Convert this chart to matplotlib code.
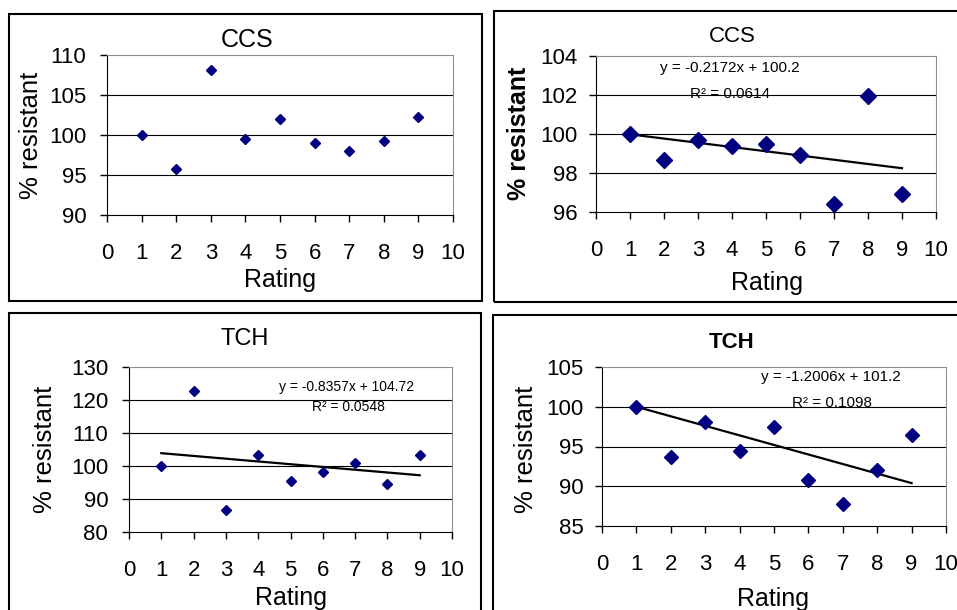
import matplotlib.pyplot as plt
import numpy as np
from matplotlib.patches import Rectangle

plt.rcParams['font.family'] = ['Liberation Sans', 'DejaVu Sans']

# data
rating = [1, 2, 3, 4, 5, 6, 7, 8, 9]
ccs_a = [100, 95.7, 108.1, 99.5, 102.0, 99.0, 98.0, 99.3, 102.3]
ccs_b = [100, 98.65, 99.7, 99.4, 99.5, 98.9, 96.4, 101.95, 96.9]
tch_a = [100, 122.8, 86.8, 103.2, 95.6, 98.1, 100.9, 94.4, 103.2]
tch_b = [100, 93.7, 98.1, 94.4, 97.4, 90.8, 87.8, 92.1, 96.5]

ccs_b_fit = (-0.2172, 100.2, 0.0614)
tch_a_fit = (-0.8357, 104.72, 0.0548)
tch_b_fit = (-1.2006, 101.2, 0.1098)

W, H = 957, 610
fig = plt.figure(figsize=(W / 100, H / 100), dpi=100)


def px_rect(x0, y0, x1, y1):
    return [x0 / W, 1 - y1 / H, (x1 - x0) / W, (y1 - y0) / H]


def ftext(x, y, s, **kw):
    fig.text(x / W, 1 - y / H, s, **kw)


def frame(x0, y0, x1, y1):
    fig.patches.append(Rectangle((x0 / W, 1 - y1 / H), (x1 - x0) / W, (y1 - y0) / H,
                                 transform=fig.transFigure, fill=False,
                                 edgecolor='black', linewidth=1.5, clip_on=False))


def panel(rect, y, ylim, yticks, ms, fit=None, fit_fs=11, eq_pos=None, r2_pos=None,
          ypad=10, xpad=15.5):
    ax = fig.add_axes(px_rect(*rect))
    ax.set_xlim(0, 10)
    ax.set_ylim(*ylim)
    ax.set_xticks(range(0, 11))
    ax.set_yticks(yticks)
    for yt in yticks[1:-1]:
        ax.axhline(yt, color='black', lw=0.8, zorder=1)
    ax.spines['top'].set_color('#909090')
    ax.spines['right'].set_color('#909090')
    ax.spines['left'].set_color('black')
    ax.spines['bottom'].set_color('black')
    ax.tick_params(axis='x', direction='out', length=5, width=1, pad=xpad, labelsize=16)
    ax.tick_params(axis='y', direction='out', length=5, width=1, pad=ypad, labelsize=16)
    ax.plot(rating, y, linestyle='none', marker='D', markersize=ms,
            color='#000080', zorder=3, clip_on=False)
    if fit is not None:
        m, b, r2 = fit
        xs = np.array([rating[0], rating[-1]])
        ax.plot(xs, m * xs + b, color='black', lw=1.6, zorder=2)
        ftext(*eq_pos, 'y = %sx + %s' % (m, b), ha='center', va='center', fontsize=fit_fs)
        ftext(*r2_pos, 'R² = %s' % r2, ha='center', va='center', fontsize=fit_fs)
    return ax


# top left
frame(9, 14, 482, 301)
panel((107, 55, 453, 215), ccs_a, (90, 110), [90, 95, 100, 105, 110], 4.8)
ftext(247, 40, 'CCS', ha='center', va='center', fontsize=18)
ftext(31, 135, '% resistant', ha='center', va='center', rotation=90, fontsize=18.5)
ftext(280, 287, 'Rating', ha='center', va='baseline', fontsize=18)

# top right
frame(494, 11, 970, 302)
panel((596, 56, 936, 212), ccs_b, (96, 104), [96, 98, 100, 102, 104], 8,
      fit=ccs_b_fit, eq_pos=(730, 68), r2_pos=(730, 94), ypad=8)
ftext(732, 36, 'CCS', ha='center', va='center', fontsize=16)
ftext(519, 133, '% resistant', ha='center', va='center', rotation=90, fontsize=18,
      weight='bold')
ftext(767, 290, 'Rating', ha='center', va='baseline', fontsize=18)

# bottom left
frame(9, 313, 481, 640)
panel((129, 367, 452, 532), tch_a, (80, 130), [80, 90, 100, 110, 120, 130], 4.8,
      fit=tch_a_fit, fit_fs=10, eq_pos=(347, 387), r2_pos=(348, 407))
ftext(245, 339, 'TCH', ha='center', va='center', fontsize=17)
ftext(45, 449, '% resistant', ha='center', va='center', rotation=90, fontsize=18.5)
ftext(291, 605, 'Rating', ha='center', va='baseline', fontsize=18)

# bottom right
frame(493, 315, 970, 640)
panel((602, 367, 946, 526), tch_b, (85, 105), [85, 90, 95, 100, 105], 7.5,
      fit=tch_b_fit, eq_pos=(831, 377), r2_pos=(832, 403), ypad=8)
ftext(732, 343, 'TCH', ha='center', va='center', fontsize=16, weight='bold')
ftext(526, 449, '% resistant', ha='center', va='center', rotation=90, fontsize=18.5)
ftext(773, 606, 'Rating', ha='center', va='baseline', fontsize=18)

fig.savefig('out.png', dpi=100)
